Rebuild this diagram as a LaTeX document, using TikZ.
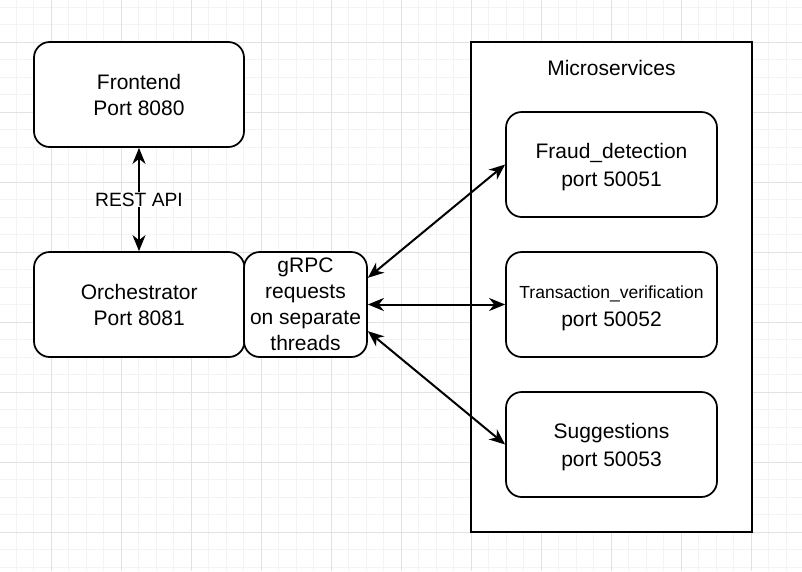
\documentclass[tikz,border=0pt]{standalone}
\usepackage{fontspec}
\setmainfont{Liberation Sans}
\usetikzlibrary{arrows.meta,calc}
\definecolor{gridminor}{HTML}{F3F3F3}
\definecolor{gridmajor}{HTML}{E2E2E2}
\newcommand{\mslines}[3]{\raisebox{-3pt}[\height][\depth]{\begin{tabular}{@{}c@{}}#1\\[#3]#2\end{tabular}}}
\tikzset{
  box/.style={draw=black, line width=1.75pt, rounded corners=15.75pt, fill=white,
    inner sep=0pt, align=center, font=\fontsize{21}{26}\selectfont},
  msbox/.style={draw=black, line width=1.75pt, rounded corners=15.75pt, fill=white,
    inner sep=0pt, minimum width=211pt, minimum height=105pt, font=\fontsize{21}{26}\selectfont},
  container/.style={draw=black, line width=1.75pt, fill=white, inner sep=0pt},
  biarrow/.style={line width=2pt, >={Stealth[length=16pt,width=13pt,inset=5pt]}, <->},
  edgelabel/.style={fill=white, inner sep=1pt, font=\fontsize{19.25}{23}\selectfont},
  gridmin/.style={draw=gridminor, line width=1pt},
  gridmaj/.style={draw=gridmajor, line width=1pt},
}
\begin{document}
\begin{tikzpicture}[x=1pt,y=-1pt]
\useasboundingbox (0,0) rectangle (802,571);
\fill[white] (0,0) rectangle (802,571);
% grid
\foreach \i in {0,...,46} \draw[gridmin] ({-1.2+17.5*\i},0) -- ++(0,571);
\foreach \i in {0,...,33} \draw[gridmin] (0,{7.3+17.5*\i}) -- ++(802,0);
\foreach \i in {0,...,10} \draw[gridmaj] ({51.3+70*\i},0) -- ++(0,571);
\foreach \i in {0,...,7} \draw[gridmaj] (0,{42.3+70*\i}) -- ++(802,0);

% left side
\node[box, minimum width=210pt, minimum height=105pt] (front) at (139,94.5) {Frontend\\Port 8080};
\node[box, minimum width=210.5pt, minimum height=105pt] (orch) at (139.25,304.5) {Orchestrator\\Port 8081};
\node[box, minimum width=123pt, minimum height=105pt] (grpc) at (305.5,304.5) {gRPC\\requests\\on separate\\threads};

% microservices container
\node[container, minimum width=281pt, minimum height=490pt] (ms) at (611.5,287) {};
\node[font=\fontsize{21}{26}\selectfont, inner sep=0pt] (mslabel) at (611.5,68) {Microservices};
\node[msbox] (fraud) at (611.5,164.5) {\mslines{Fraud\_detection}{port 50051}{2pt}};
\node[msbox] (tv) at (611.5,304.5) {\mslines{\fontsize{17.5}{21}\selectfont Transaction\_verification}{port 50052}{1.5pt}};
\node[msbox] (sugg) at (611.5,444.5) {\mslines{Suggestions}{port 50053}{2pt}};

% connectors
\draw[biarrow] (front.south) -- (front.south |- orch.north)
  node[midway, edgelabel] (rest) {REST API};
\draw[biarrow] ($(grpc.north east)!0.25!(grpc.south east)$) -- (fraud.west);
\draw[biarrow] (grpc.east) -- (tv.west);
\draw[biarrow] ($(grpc.north east)!0.75!(grpc.south east)$) -- (sugg.west);
\end{tikzpicture}
\end{document}
